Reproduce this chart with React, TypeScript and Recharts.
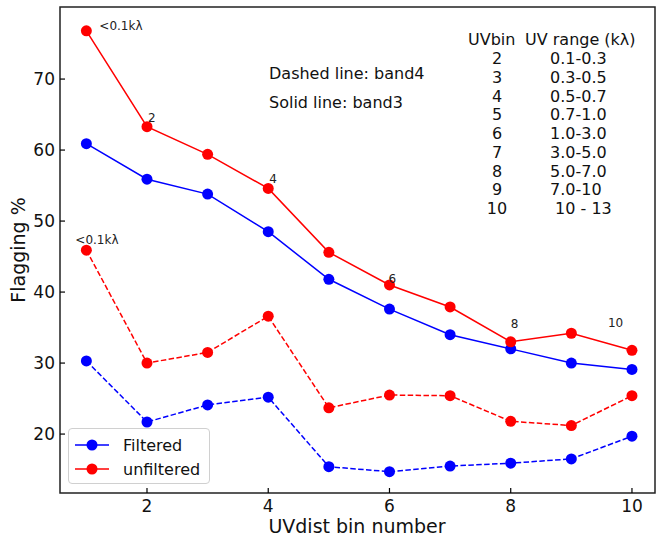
import React from 'react'
import { LineChart, Line, XAxis, YAxis, ReferenceArea, Legend, LabelList } from 'recharts'

const bins = [1, 2, 3, 4, 5, 6, 7, 8, 9, 10]
// flagging percentage per UV bin
const band3Filtered = [60.9, 55.9, 53.8, 48.5, 41.8, 37.6, 34.0, 32.0, 30.0, 29.1]
const band3Unfiltered = [76.8, 63.3, 59.4, 54.6, 45.6, 41.0, 37.9, 33.0, 34.2, 31.8]
const band4Filtered = [30.3, 21.7, 24.1, 25.2, 15.4, 14.7, 15.5, 15.9, 16.5, 19.7]
const band4Unfiltered = [45.9, 30.0, 31.5, 36.6, 23.7, 25.5, 25.4, 21.8, 21.2, 25.4]
const band3Labels = ['<0.1kλ', '2', '', '4', '', '6', '', '8', '', '10']
const band4Labels = ['<0.1kλ', '', '', '', '', '', '', '', '', '']

const xTicks = [2, 4, 6, 8, 10]
const yTicks = [20, 30, 40, 50, 60, 70]

const uvBins = ['2', '3', '4', '5', '6', '7', '8', '9', '10']
const uvRanges = ['0.1-0.3', '0.3-0.5', '0.5-0.7', '0.7-1.0', '1.0-3.0', '3.0-5.0', '5.0-7.0', '7.0-10', ' 10 - 13']

const rows = bins.map((bin, i) => ({
  bin,
  b3f: band3Filtered[i],
  b3u: band3Unfiltered[i],
  b4f: band4Filtered[i],
  b4u: band4Unfiltered[i],
  l3: band3Labels[i],
  l4: band4Labels[i],
}))

const X_DOMAIN: [number, number] = [0.565, 10.38]
const Y_DOMAIN: [number, number] = [11.7, 80.15]
const RED = '#ff0000'
const BLUE = '#0000ff'
const FONT = 'DejaVu Sans, sans-serif'

// text offsets (px) from the marker for each annotated bin
const solidShift: Record<number, [number, number]> = {
  0: [13, -1],
  1: [1, -5],
  3: [1, -5],
  5: [-1, -2],
  7: [0, -14],
  9: [-24, -23],
}
const dashedShift: Record<number, [number, number]> = { 0: [-11, -6] }

const makeLabel = (shift: Record<number, [number, number]>) => (props: any) => {
  const { x, y, value, index } = props
  if (!value || !shift[index]) return null
  const [dx, dy] = shift[index]
  return (
    <text x={x + dx} y={y + dy} fontSize={12} fill="#222" fontFamily={FONT}>
      {value}
    </text>
  )
}

function LegendBox({ payload }: any) {
  const items = (payload || []).filter((p: any) => p.type !== 'none')
  return (
    <div
      style={{
        width: 142,
        height: 56,
        border: '1px solid #d0d0d0',
        borderRadius: 4,
        background: 'rgba(255,255,255,0.85)',
        boxSizing: 'border-box',
        position: 'relative',
        fontFamily: FONT,
      }}
    >
      <svg width={140} height={54} style={{ position: 'absolute', left: 0, top: 0 }}>
        {items.map((p: any, i: number) => {
          const cy = 16 + i * 24
          return (
            <g key={p.value}>
              <line x1={6} x2={40} y1={cy} y2={cy} stroke={p.color} strokeWidth={1.5} />
              <circle cx={23} cy={cy} r={5.5} fill={p.color} />
              <text x={54} y={cy + 6} fontSize={16} fill="#111" fontFamily={FONT}>
                {p.value}
              </text>
            </g>
          )
        })}
      </svg>
    </div>
  )
}

export default function App() {
  return (
    <div style={{ position: 'absolute', left: 0, top: 0, width: 657, height: 542, background: '#fff' }}>
      <LineChart width={657} height={542} data={rows} margin={{ top: 7, right: 2, bottom: 0, left: 0 }}>
        <XAxis
          dataKey="bin"
          type="number"
          domain={X_DOMAIN}
          allowDataOverflow
          ticks={xTicks}
          height={49}
          axisLine={false}
          tickSize={-5}
          tickMargin={12}
          tickLine={{ stroke: '#000', strokeWidth: 1.2 }}
          tick={{ fontSize: 17, fill: '#111', fontFamily: FONT }}
        />
        <YAxis
          type="number"
          domain={Y_DOMAIN}
          allowDataOverflow
          ticks={yTicks}
          width={60}
          axisLine={false}
          tickSize={-5}
          tickMargin={10}
          tickLine={{ stroke: '#000', strokeWidth: 1.2 }}
          tick={{ fontSize: 17, fill: '#111', fontFamily: FONT }}
        />
        <ReferenceArea
          x1={X_DOMAIN[0]}
          x2={X_DOMAIN[1]}
          y1={Y_DOMAIN[0]}
          y2={Y_DOMAIN[1]}
          fill="none"
          stroke="#222"
          strokeWidth={1.5}
          ifOverflow="visible"
        />
        <Legend
          content={<LegendBox />}
          verticalAlign="middle"
          align="center"
          wrapperStyle={{ position: 'absolute', left: 68, top: 428, width: 142, height: 56 }}
        />
        <Line
          dataKey="b4u"
          stroke={RED}
          strokeWidth={1.5}
          strokeDasharray="5.5 2.4"
          dot={{ r: 5.5, fill: RED, stroke: 'none' }}
          legendType="none"
          isAnimationActive={false}
        >
          <LabelList dataKey="l4" content={makeLabel(dashedShift)} />
        </Line>
        <Line
          dataKey="b4f"
          stroke={BLUE}
          strokeWidth={1.5}
          strokeDasharray="5.5 2.4"
          dot={{ r: 5.5, fill: BLUE, stroke: 'none' }}
          legendType="none"
          isAnimationActive={false}
        />
        <Line
          dataKey="b3f"
          name="Filtered"
          stroke={BLUE}
          strokeWidth={1.5}
          dot={{ r: 5.5, fill: BLUE, stroke: 'none' }}
          isAnimationActive={false}
        />
        <Line
          dataKey="b3u"
          name="unfiltered"
          stroke={RED}
          strokeWidth={1.5}
          dot={{ r: 5.5, fill: RED, stroke: 'none' }}
          isAnimationActive={false}
        >
          <LabelList dataKey="l3" content={makeLabel(solidShift)} />
        </Line>
      </LineChart>

      <svg
        width={657}
        height={542}
        style={{ position: 'absolute', left: 0, top: 0, pointerEvents: 'none' }}
        fontFamily={FONT}
        fill="#111"
      >
        <text x={357} y={533} fontSize={19} textAnchor="middle">
          UVdist bin number
        </text>
        <text x={25} y={250} fontSize={19} textAnchor="middle" transform="rotate(-90 25 250)">
          Flagging %
        </text>

        <text x={269} y={79} fontSize={16}>
          Dashed line: band4
        </text>
        <text x={269} y={108} fontSize={16}>
          Solid line: band3
        </text>

        <text x={468} y={45} fontSize={16}>
          UVbin
        </text>
        <text x={525} y={45} fontSize={16}>
          UV range (kλ)
        </text>
        {uvBins.map((b, i) => (
          <text key={b} x={497} y={64 + i * 18.75} fontSize={16} textAnchor="middle">
            {b}
          </text>
        ))}
        {uvRanges.map((r, i) => (
          <text key={r} x={550} y={64 + i * 18.75} fontSize={16} style={{ whiteSpace: 'pre' }}>
            {r}
          </text>
        ))}
      </svg>
    </div>
  )
}
